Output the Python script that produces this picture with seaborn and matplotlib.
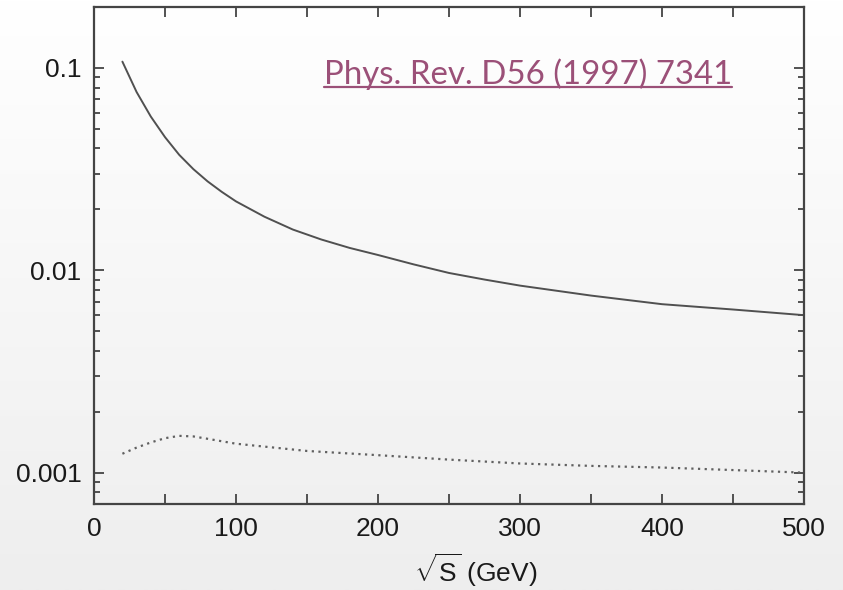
import numpy as np
import pandas as pd
import matplotlib
matplotlib.use("Agg")
import matplotlib.pyplot as plt
from matplotlib.colors import LinearSegmentedColormap
from matplotlib.lines import Line2D
from matplotlib.ticker import MultipleLocator, FixedLocator, NullFormatter
import seaborn as sns

# data
solid_x = [20, 30, 40, 50, 60, 70, 80, 90, 100, 120, 140, 160, 180, 200,
           225, 250, 275, 300, 350, 400, 450, 500]
solid_vals = [0.1074, 0.076, 0.0575, 0.0455, 0.0372, 0.0316, 0.0275, 0.0244,
              0.0219, 0.0184, 0.0159, 0.0142, 0.0129, 0.0119, 0.0107, 0.0097,
              0.0090, 0.0084, 0.0075, 0.0068, 0.0064, 0.0060]
dotted_x = [20, 30, 40, 50, 60, 70, 80, 100, 150, 200, 250, 300, 350, 400,
            450, 500]
dotted_vals = [0.00124, 0.00133, 0.00141, 0.00148, 0.00152, 0.00151, 0.00147,
               0.00139, 0.00128, 0.00122, 0.00116, 0.00111, 0.00108, 0.00106,
               0.00103, 0.00100]
x_ticks = [0, 100, 200, 300, 400, 500]
y_ticks = [0.001, 0.01, 0.1]
y_tick_labels = ["0.001", "0.01", "0.1"]
ref_text = "Phys. Rev. D56 (1997) 7341"

solid = pd.DataFrame({"sqrt_s": solid_x, "val": solid_vals})
dotted = pd.DataFrame({"sqrt_s": dotted_x, "val": dotted_vals})

sns.set_style("ticks")
plt.rcParams["font.family"] = ["Liberation Sans", "DejaVu Sans"]
plt.rcParams["mathtext.fontset"] = "custom"
plt.rcParams["mathtext.rm"] = "Liberation Sans"
plt.rcParams["mathtext.it"] = "Liberation Sans"

fig = plt.figure(figsize=(8.43, 5.90), dpi=100)

# slide-like gray gradient background
bg = fig.add_axes([0, 0, 1, 1], zorder=-10)
cmap = LinearSegmentedColormap.from_list("bg", ["#ffffff", "#eeeeee"])
bg.imshow(np.linspace(0, 1, 256)[:, None], cmap=cmap, aspect="auto")
bg.axis("off")

ax = fig.add_axes([94 / 843, 1 - 504 / 590, 710 / 843, 497 / 590])
ax.set_facecolor("none")

sns.lineplot(data=solid, x="sqrt_s", y="val", ax=ax, color="#505050", lw=1.4)
sns.lineplot(data=dotted, x="sqrt_s", y="val", ax=ax, color="#606060", lw=1.6,
             linestyle=(0, (1, 2)))

ax.set_yscale("log")
ax.set_xlim(0, 500)
ax.set_ylim(0.0007, 0.2)

ax.xaxis.set_major_locator(FixedLocator(x_ticks))
ax.xaxis.set_minor_locator(MultipleLocator(50))
ax.set_yticks(y_ticks)
ax.set_yticklabels(y_tick_labels)
ax.yaxis.set_minor_formatter(NullFormatter())

ax.tick_params(axis="both", which="both", direction="in", top=True, right=True,
               color="#444444", width=1.3, labelsize=19, pad=9, labelcolor="#1a1a1a")
ax.tick_params(axis="both", which="major", length=7)
ax.tick_params(axis="y", which="minor", length=4.5)
ax.tick_params(axis="x", which="minor", length=7)

for sp in ax.spines.values():
    sp.set_color("#444444")
    sp.set_linewidth(1.6)

ax.set_ylabel("")
ax.set_xlabel(r"$\sqrt{\mathrm{S}}$ (GeV)", fontsize=19, color="#1a1a1a")
ax.xaxis.set_label_coords(0.537, -0.095)

txt = fig.text(324 / 843, 1 - 84 / 590, ref_text, fontsize=23.8, color="#9b5078",
               family=["Lato", "DejaVu Sans"], ha="left", va="baseline")

# underline under the reference text
fig.canvas.draw()
bb = txt.get_window_extent().transformed(fig.transFigure.inverted())
fig.add_artist(Line2D([bb.x0, bb.x1], [1 - 87 / 590, 1 - 87 / 590],
                      transform=fig.transFigure, color="#9b5078", lw=1.6))

fig.savefig("out.png", dpi=100)
